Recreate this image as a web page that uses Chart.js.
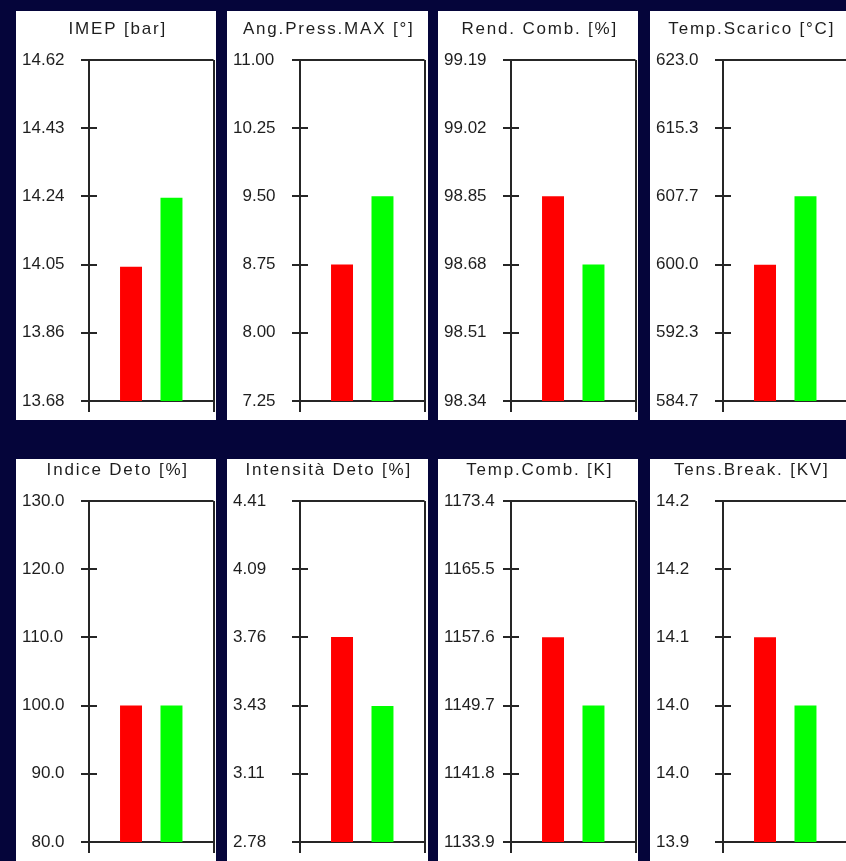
<!DOCTYPE html>
<html>
<head>
<meta charset="utf-8">
<script src="https://cdn.jsdelivr.net/npm/chart.js@4/dist/chart.umd.min.js"></script>
<style>
  html, body { margin: 0; padding: 0; }
  body { width: 846px; height: 861px; background: #05053a; position: relative; overflow: hidden; }
  .panel { position: absolute; background: #ffffff; }
  canvas { position: absolute; }
</style>
</head>
<body>
<script>
// Panel titles, left to right, top row then bottom row
const titles = [
  'IMEP [bar]', 'Ang.Press.MAX [°]', 'Rend. Comb. [%]', 'Temp.Scarico [°C]',
  'Indice Deto [%]', 'Intensità Deto [%]', 'Temp.Comb. [K]', 'Tens.Break. [KV]'
];

// Axis range of each panel
const axisMin = [13.68, 7.25, 98.34, 584.7, 80.0, 2.78, 1133.9, 13.92];
const axisMax = [14.62, 11.00, 99.19, 623.0, 130.0, 4.41, 1173.4, 14.22];

// Tick labels, bottom to top
const tickLabels = [
  ['13.68', '13.86', '14.05', '14.24', '14.43', '14.62'],
  ['7.25', '8.00', '8.75', '9.50', '10.25', '11.00'],
  ['98.34', '98.51', '98.68', '98.85', '99.02', '99.19'],
  ['584.7', '592.3', '600.0', '607.7', '615.3', '623.0'],
  ['80.0', '90.0', '100.0', '110.0', '120.0', '130.0'],
  ['2.78', '3.11', '3.43', '3.76', '4.09', '4.41'],
  ['1133.9', '1141.8', '1149.7', '1157.6', '1165.5', '1173.4'],
  ['13.9', '14.0', '14.0', '14.1', '14.2', '14.2']
];

// Bar values: red = first run, green = second run
const redValues   = [14.05, 8.75, 98.85, 600.0, 100.0, 3.76, 1157.6, 14.10];
const greenValues = [14.24, 9.50, 98.68, 607.7, 100.0, 3.43, 1149.7, 14.04];

const LINE = '#262626';
const TEXT = '#1e1e1e';
const FONT = "'Liberation Sans', Arial, sans-serif";

const panelLeft = [16, 227, 438, 650];
const panelRight = [216, 428, 638, 860];
const rowPanelTop = [11, 459];
const rowPanelBottom = [420, 861];
const rowCanvasTop = [0, 441];

// Small tick segments inside the plot plus the top frame line
const crossTicks = {
  id: 'crossTicks',
  afterInit(chart) {
    const block = chart.titleBlock;
    if (block) {
      const draw = block.draw.bind(block);
      block.draw = function (area) {
        const ctx = chart.ctx;
        ctx.save();
        ctx.letterSpacing = '1.8px';
        draw(area);
        ctx.restore();
      };
    }
  },
  afterDraw(chart) {
    const { ctx, chartArea, scales: { y } } = chart;
    ctx.save();
    ctx.strokeStyle = LINE;
    ctx.lineWidth = 2;
    y.ticks.forEach((t, i) => {
      const py = Math.round(y.getPixelForValue(t.value));
      const end = i === y.ticks.length - 1 ? chartArea.right : chartArea.left + 8;
      ctx.beginPath();
      ctx.moveTo(chartArea.left, py);
      ctx.lineTo(end, py);
      ctx.stroke();
    });
    ctx.restore();
  }
};

titles.forEach((title, i) => {
  const row = Math.floor(i / 4);
  const col = i % 4;

  const panel = document.createElement('div');
  panel.className = 'panel';
  panel.style.left = panelLeft[col] + 'px';
  panel.style.top = rowPanelTop[row] + 'px';
  panel.style.width = (panelRight[col] - panelLeft[col]) + 'px';
  panel.style.height = (rowPanelBottom[row] - rowPanelTop[row]) + 'px';
  document.body.appendChild(panel);

  const canvas = document.createElement('canvas');
  canvas.width = 200;
  canvas.height = 420;
  canvas.style.left = panelLeft[col] + 'px';
  canvas.style.top = rowCanvasTop[row] + 'px';
  canvas.style.width = '200px';
  canvas.style.height = '420px';
  document.body.appendChild(canvas);

  const min = axisMin[i];
  const max = axisMax[i];
  const labels = tickLabels[i];
  const width = Math.max(...labels.map(s => s.length));
  const shown = labels.map(s => s.padStart(width, '\u2007'));
  const tickValues = labels.map((_, k) => min + (max - min) * k / (labels.length - 1));

  new Chart(canvas, {
    type: 'bar',
    data: {
      labels: [''],
      datasets: [
        { data: [redValues[i]], backgroundColor: '#ff0000', borderWidth: 0 },
        { data: [greenValues[i]], backgroundColor: '#00ff00', borderWidth: 0 }
      ]
    },
    options: {
      responsive: false,
      animation: false,
      events: [],
      categoryPercentage: 0.65,
      barPercentage: 0.543,
      layout: { padding: { left: 6, right: 2.5, top: 0, bottom: 8 } },
      plugins: {
        legend: { display: false },
        tooltip: { enabled: false },
        title: {
          display: true,
          text: title,
          color: TEXT,
          font: { family: FONT, size: 17, weight: 'normal', lineHeight: 1.2 },
          padding: { top: 19, bottom: 20.5 }
        }
      },
      scales: {
        x: {
          type: 'category',
          offset: true,
          z: 1,
          grid: { offset: true, drawOnChartArea: true, drawTicks: true, tickLength: 11, color: LINE, lineWidth: 2 },
          border: { display: true, color: LINE, width: 2 },
          ticks: { display: false }
        },
        y: {
          type: 'linear',
          min: min,
          max: max,
          z: 1,
          afterBuildTicks(scale) {
            scale.ticks = tickValues.map(v => ({ value: v }));
          },
          afterFit(scale) {
            scale.width = 67;
          },
          grid: { drawOnChartArea: false, drawTicks: true, tickLength: 8, color: LINE, lineWidth: 2 },
          border: { display: true, color: LINE, width: 2 },
          ticks: {
            crossAlign: 'far',
            color: TEXT,
            font: { family: FONT, size: 17 },
            autoSkip: false,
            callback: (value, index) => shown[index]
          }
        }
      }
    },
    plugins: [crossTicks]
  });
});
</script>
</body>
</html>
